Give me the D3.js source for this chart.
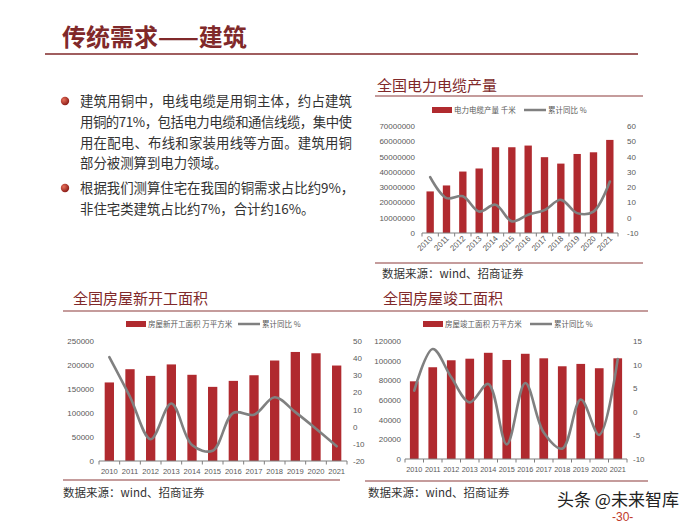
<!DOCTYPE html>
<html><head><meta charset="utf-8">
<script src="https://cdn.jsdelivr.net/npm/d3@7"></script>
<style>
html,body{margin:0;padding:0;background:#fff;}
svg{display:block;}
</style>
</head><body>
<svg id="c" width="700" height="525"></svg>
<script>
// ---------- data ----------
const years = ["2010","2011","2012","2013","2014","2015","2016","2017","2018","2019","2020","2021"];

const cableOutput = [27200000,31100000,40200000,42200000,56100000,56100000,57200000,49600000,45400000,51700000,52800000,60900000];
const cableYoY = [26.5,12.8,14,4,8.5,-2.4,2,5,11.7,3,4,23.7];
const cableLeftTicks = [0,10000000,20000000,30000000,40000000,50000000,60000000,70000000];
const cableRightTicks = [-10,0,10,20,30,40,50,60];

const startsArea = [163647,191237,177334,201208,179592,154454,166928,178654,209342,227154,224433,198895];
const startsYoY = [40.6,17.5,-7.3,13.5,-10.7,-14.0,8.1,7.0,17.2,8.5,-1.2,-11.4];
const startsLeftTicks = [0,50000,100000,150000,200000,250000];
const startsRightTicks = [-20,-10,0,10,20,30,40,50];

const complArea = [79000,93300,100400,102000,108000,100700,107000,102400,94300,96700,92300,102400];
const complYoY = [4.5,13.3,7.3,2.0,5.9,-6.9,6.1,-4.4,-7.8,2.6,-4.9,11.2];
const complLeftTicks = [0,20000,40000,60000,80000,100000,120000];
const complRightTicks = [-10,-5,0,5,10,15];

const pageTitle = "传统需求——建筑";
const bullets = [
  ["建筑用铜中，电线电缆是用铜主体，约占建筑","用铜的71%，包括电力电缆和通信线缆，集中使","用在配电、布线和家装用线等方面。建筑用铜","部分被测算到电力领域。"],
  ["根据我们测算住宅在我国的铜需求占比约9%，","非住宅类建筑占比约7%，合计约16%。"]
];
const source = "数据来源：wind、招商证券";

// ---------- styles ----------
const CJK = "'Noto Sans CJK SC','Noto Sans CJK JP',sans-serif";
const NUM = "'Liberation Sans',Arial,sans-serif";
const RED = "#80292a";
const BAR = "#b02a2f";
const GRAY = "#808080";
const TXT = "#595959";

const svg = d3.select("#c");

// page title
svg.append("text").attr("x",62).attr("y",46).attr("font-family",CJK).attr("font-size",24)
  .attr("font-weight","bold").attr("fill",RED).text(pageTitle);
svg.append("line").attr("x1",45).attr("x2",638).attr("y1",54).attr("y2",54)
  .attr("stroke",RED).attr("stroke-width",1.6);

// bullets
const grad = svg.append("defs").append("radialGradient").attr("id","bg").attr("cx","35%").attr("cy","35%").attr("r","65%");
grad.append("stop").attr("offset","0%").attr("stop-color","#e8705a");
grad.append("stop").attr("offset","100%").attr("stop-color","#8e1f1a");
const bulletY = [101,188];
bullets.forEach((lines,bi)=>{
  svg.append("circle").attr("cx",65).attr("cy",bulletY[bi]).attr("r",4.2).attr("fill","url(#bg)");
  lines.forEach((ln,li)=>{
    const t = svg.append("text").attr("x",80).attr("y",bulletY[bi]+li*20.8+5)
      .attr("font-family",CJK).attr("font-size",13.4).attr("fill","#333").text(ln);
    if(bi===0 && li<3){ t.attr("textLength",272).attr("lengthAdjust","spacing"); }
  });
});

// watermark
svg.append("text").attr("x",557).attr("y",506).attr("font-family",CJK).attr("font-size",17)
  .attr("fill","#222").text("头条 @未来智库");
svg.append("text").attr("x",612).attr("y",521).attr("font-family",NUM).attr("font-size",12)
  .attr("fill","#c0392b").text("-30-");

function fmt(v){ return String(v); }

function drawChart(cfg){
  const g = svg.append("g");
  // title + underline
  g.append("text").attr("x",cfg.titleX).attr("y",cfg.titleY).attr("font-family",CJK)
    .attr("font-size",15).attr("fill",RED).text(cfg.title);
  g.append("line").attr("x1",cfg.ulX[0]).attr("x2",cfg.ulX[1]).attr("y1",cfg.ulY).attr("y2",cfg.ulY)
    .attr("stroke","#8b3a3a").attr("stroke-width",1.2);
  // legend
  const ly = cfg.legY;
  g.append("rect").attr("x",cfg.legRect).attr("y",ly-3).attr("width",20).attr("height",6).attr("fill",BAR);
  g.append("text").attr("x",cfg.legRect+22).attr("y",ly+2.7).attr("font-family",CJK).attr("font-size",7.5)
    .attr("fill",TXT).text(cfg.barName);
  g.append("line").attr("x1",cfg.legLine).attr("x2",cfg.legLine+22).attr("y1",ly).attr("y2",ly)
    .attr("stroke",GRAY).attr("stroke-width",2.5);
  g.append("text").attr("x",cfg.legLine+24).attr("y",ly+2.7).attr("font-family",CJK).attr("font-size",7.5)
    .attr("fill",TXT).text("累计同比 %");

  const x = d3.scaleBand().domain(cfg.cats).range([cfg.x0,cfg.x1]).paddingInner(cfg.pad).paddingOuter(cfg.pad/2);
  const xb = d3.scaleBand().domain(cfg.cats).range([cfg.x0,cfg.x1]);
  const yl = d3.scaleLinear().domain([cfg.lTicks[0],cfg.lTicks[cfg.lTicks.length-1]]).range([cfg.yB,cfg.yT]);
  const yr = d3.scaleLinear().domain([cfg.rTicks[0],cfg.rTicks[cfg.rTicks.length-1]]).range([cfg.yB,cfg.yT]);

  // left axis labels
  const la = d3.axisLeft(yl).tickValues(cfg.lTicks).tickSize(0).tickPadding(cfg.x0-cfg.lLab).tickFormat(fmt);
  const lag = g.append("g").attr("transform",`translate(${cfg.x0},0)`).call(la);
  lag.select(".domain").remove();
  lag.selectAll("text").attr("font-family",NUM).attr("font-size",8).attr("fill",TXT);
  const ra = d3.axisRight(yr).tickValues(cfg.rTicks).tickSize(0).tickPadding(cfg.rLab-cfg.x1).tickFormat(fmt);
  const rag = g.append("g").attr("transform",`translate(${cfg.x1},0)`).call(ra);
  rag.select(".domain").remove();
  rag.selectAll("text").attr("font-family",NUM).attr("font-size",8).attr("fill",TXT);

  // bars
  g.selectAll("rect.bar").data(cfg.bars).join("rect").attr("class","bar")
    .attr("x",(d,i)=>x(cfg.cats[i])).attr("width",x.bandwidth())
    .attr("y",d=>yl(d)).attr("height",d=>yl(0)-yl(d)).attr("fill",BAR);

  // x axis line with boundary ticks
  g.append("line").attr("x1",cfg.x0).attr("x2",cfg.x1).attr("y1",cfg.yB).attr("y2",cfg.yB)
    .attr("stroke","#7f7f7f").attr("stroke-width",1);
  const bounds = cfg.cats.map(c=>xb(c)).concat([cfg.x1]);
  g.selectAll("line.tk").data(bounds).join("line").attr("class","tk")
    .attr("x1",d=>d).attr("x2",d=>d).attr("y1",cfg.yB).attr("y2",cfg.yB+3.5)
    .attr("stroke","#7f7f7f").attr("stroke-width",1);
  // x labels
  g.selectAll("text.xl").data(cfg.cats).join("text").attr("class","xl")
    .attr("font-family",NUM).attr("font-size",cfg.xFont).attr("fill",TXT)
    .each(function(d){
      const cx = xb(d)+xb.bandwidth()/2;
      const s = d3.select(this).text(d);
      if(cfg.rotate){
        s.attr("text-anchor","end").attr("transform",`translate(${cx+3},${cfg.yB+6}) rotate(-45)`);
      } else {
        s.attr("text-anchor","middle").attr("x",cx).attr("y",cfg.yB+13);
      }
    });

  // line
  const line = d3.line().x((d,i)=>xb(cfg.cats[i])+xb.bandwidth()/2).y(d=>yr(d)).curve(d3.curveCatmullRom.alpha(0.5));
  g.append("path").datum(cfg.line).attr("d",line).attr("fill","none")
    .attr("stroke",GRAY).attr("stroke-width",2.6).attr("stroke-linecap","round");

  // footer
  g.append("line").attr("x1",cfg.ftX[0]).attr("x2",cfg.ftX[1]).attr("y1",cfg.ftY).attr("y2",cfg.ftY)
    .attr("stroke","#8b3a3a").attr("stroke-width",1.2);
  g.append("text").attr("x",cfg.srcX).attr("y",cfg.srcY).attr("font-family",CJK).attr("font-size",11.5)
    .attr("fill","#333").text(source);
}

drawChart({
  title:"全国电力电缆产量", titleX:377, titleY:91, ulX:[375,643], ulY:96,
  legY:110, legRect:432, legLine:524, barName:"电力电缆产量 千米",
  cats:years, bars:cableOutput, line:cableYoY, lTicks:cableLeftTicks, rTicks:cableRightTicks,
  x0:422, x1:618, yT:126, yB:233, lLab:415, rLab:627, pad:0.55, rotate:true, xFont:8,
  ftX:[375,643], ftY:263, srcX:382, srcY:278
});
drawChart({
  title:"全国房屋新开工面积", titleX:73, titleY:304, ulX:[63,358], ulY:311,
  legY:324, legRect:126, legLine:238, barName:"房屋新开工面积 万平方米",
  cats:years, bars:startsArea, line:startsYoY, lTicks:startsLeftTicks, rTicks:startsRightTicks,
  x0:99, x1:347, yT:341, yB:461, lLab:94, rLab:353, pad:0.55, rotate:false, xFont:7.6,
  ftX:[63,340], ftY:480, srcX:63, srcY:497
});
drawChart({
  title:"全国房屋竣工面积", titleX:383, titleY:304, ulX:[358,648], ulY:311,
  legY:324, legRect:423, legLine:530, barName:"房屋竣工面积 万平方米",
  cats:years, bars:complArea, line:complYoY, lTicks:complLeftTicks, rTicks:complRightTicks,
  x0:405, x1:627, yT:341, yB:459, lLab:401, rLab:633, pad:0.53, rotate:false, xFont:7.3,
  ftX:[365,648], ftY:481, srcX:368, srcY:497
});
</script>
</body></html>
